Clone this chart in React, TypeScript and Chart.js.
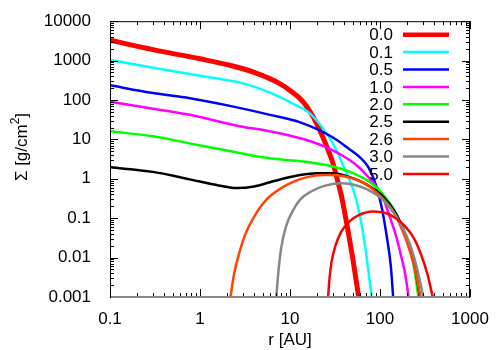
import React, { useEffect, useRef } from "react";
import { Chart, registerables } from "chart.js";

Chart.register(...registerables);

// ---- data ----
const SERIES_LABELS = ["0.0", "0.1", "0.5", "1.0", "2.0", "2.5", "2.6", "3.0", "5.0"];

const R_00 = [0.1, 0.3, 1, 2.15, 4, 7.7, 10, 14, 18, 22, 26, 30, 34, 38, 44, 50, 58];
const S_00 = [3300, 1900, 1110, 760, 500, 260, 175, 90, 38, 15, 6, 2.5, 0.85, 0.3, 0.05, 0.009, 0.001];

const R_01 = [0.1, 0.3, 1, 2.8, 6, 10, 16.7, 25.6, 33, 40, 46, 52, 58, 64, 70, 76, 81];
const S_01 = [1035, 660, 410, 276, 154, 88, 45, 14, 5.2, 1.9, 0.95, 0.42, 0.16, 0.05, 0.013, 0.003, 0.001];

const R_05 = [0.1, 0.3, 0.77, 2.15, 6, 13, 30, 45, 60, 75, 90, 105, 120, 132, 140];
const S_05 = [237, 150, 111, 71, 42, 27, 11.2, 5.8, 3.5, 1.9, 0.7, 0.18, 0.03, 0.006, 0.001];

const R_10 = [0.1, 0.3, 0.77, 2.67, 6, 14, 28, 46, 60, 77, 92, 110, 130, 150, 170, 190, 208];
const S_10 = [90, 60, 42, 22, 16, 10.2, 5.7, 3.0, 1.85, 1.0, 0.62, 0.3, 0.1, 0.037, 0.012, 0.004, 0.001];

const R_20 = [0.1, 0.3, 0.77, 2, 4, 8, 15, 30, 50, 70, 90, 110, 140, 170, 200, 235, 267];
const S_20 = [16, 12, 7.9, 5.2, 3.8, 3.1, 2.7, 2.05, 1.4, 0.95, 0.62, 0.38, 0.18, 0.075, 0.026, 0.007, 0.001];

const R_25 = [0.1, 0.3, 0.6, 1, 1.6, 2.6, 4, 6, 9, 13, 20, 30, 46, 65, 85, 110, 140, 170, 200, 240, 278];
const S_25 = [1.96, 1.5, 1.1, 0.85, 0.68, 0.58, 0.64, 0.82, 1.05, 1.25, 1.38, 1.38, 1.1, 0.8, 0.55, 0.34, 0.17, 0.075, 0.028, 0.007, 0.001];

const R_26 = [2.18, 2.4, 2.7, 3.2, 4, 5.5, 8, 11, 16, 23, 32, 46, 65, 85, 110, 140, 170, 200, 240, 282];
const S_26 = [0.001, 0.004, 0.012, 0.04, 0.11, 0.3, 0.58, 0.85, 1.12, 1.25, 1.25, 1.07, 0.8, 0.52, 0.3, 0.15, 0.062, 0.024, 0.006, 0.001];

const R_30 = [7.05, 7.4, 8, 9, 10.5, 13, 17, 24, 36, 50, 71, 100, 130, 170, 215, 260, 303];
const S_30 = [0.001, 0.004, 0.018, 0.06, 0.14, 0.3, 0.47, 0.66, 0.77, 0.72, 0.55, 0.34, 0.18, 0.072, 0.022, 0.005, 0.001];

const R_50 = [26.5, 27.5, 29, 32, 37, 45, 58, 84, 115, 150, 190, 240, 290, 340, 385];
const S_50 = [0.001, 0.003, 0.008, 0.02, 0.045, 0.08, 0.12, 0.148, 0.135, 0.1, 0.062, 0.03, 0.011, 0.0035, 0.001];

const SERIES_R = [R_00, R_01, R_05, R_10, R_20, R_25, R_26, R_30, R_50];
const SERIES_S = [S_00, S_01, S_05, S_10, S_20, S_25, S_26, S_30, S_50];

const X_TICK_LABELS = ["0.1", "1", "10", "100", "1000"];
const Y_TICK_LABELS = ["0.001", "0.01", "0.1", "1", "10", "100", "1000", "10000"];

const X_TITLE = "r [AU]";
const Y_TITLE_MAIN = "\u03A3 [g/cm";
const Y_TITLE_SUP = "2";
const Y_TITLE_END = "]";

// ---- styles ----
const COLORS = ["#ff0000", "#00ffff", "#0000ff", "#ff00ff", "#00ff00", "#000000", "#ff4500", "#888888", "#ff0000"];
const WIDTHS = [5, 2.5, 2.5, 2.5, 2.5, 2.5, 2.5, 2.5, 2.5];
const FONT = "'Liberation Sans', Arial, Helvetica, sans-serif";
const FS = 17;

function labelFor(list: string[], v: number) {
  const e = Math.log10(v);
  const r = Math.round(e);
  if (Math.abs(e - r) > 1e-6) return "";
  const s = list.find((t) => Math.abs(Math.log10(Number(t)) - r) < 1e-6);
  return s ?? "";
}

function tickValues(list: string[]) {
  const lo = Math.round(Math.log10(Number(list[0])));
  const hi = Math.round(Math.log10(Number(list[list.length - 1])));
  const out: { v: number; major: boolean }[] = [];
  for (let e = lo; e <= hi; e++) {
    for (let k = 1; k <= 9; k++) {
      if (e === hi && k > 1) break;
      out.push({ v: k * Math.pow(10, e), major: k === 1 });
    }
  }
  return out;
}

const framePlugin = {
  id: "frame",
  afterDraw(chart: any) {
    const { ctx, chartArea, scales } = chart;
    const { left, right, top, bottom } = chartArea;
    const xs = scales.x;
    const ys = scales.y;
    ctx.save();
    ctx.strokeStyle = "#000000";
    ctx.lineWidth = 1;
    ctx.beginPath();
    ctx.moveTo(left + 0.5, bottom);
    ctx.lineTo(left + 0.5, top + 0.5);
    ctx.lineTo(right - 0.5, top + 0.5);
    ctx.lineTo(right - 0.5, bottom);
    ctx.stroke();

    ctx.beginPath();
    tickValues(X_TICK_LABELS).forEach(({ v, major }) => {
      const p = Math.round(xs.getPixelForValue(v)) + 0.5;
      const len = major ? 8 : 4;
      ctx.moveTo(p, bottom);
      ctx.lineTo(p, bottom - len);
      ctx.moveTo(p, top);
      ctx.lineTo(p, top + len);
    });
    tickValues(Y_TICK_LABELS).forEach(({ v, major }) => {
      const p = Math.round(ys.getPixelForValue(v)) + 0.5;
      const len = major ? 8 : 4;
      ctx.moveTo(left, p);
      ctx.lineTo(left + len, p);
      ctx.moveTo(right, p);
      ctx.lineTo(right - len, p);
    });
    ctx.stroke();

    ctx.strokeStyle = "#888888";
    ctx.lineWidth = 2;
    ctx.beginPath();
    ctx.moveTo(left + 1, bottom);
    ctx.lineTo(right - 1, bottom);
    ctx.stroke();

    // legend
    ctx.font = `${FS}px ${FONT}`;
    ctx.textAlign = "right";
    ctx.textBaseline = "middle";
    chart.data.datasets.forEach((ds: any, i: number) => {
      const yy = top + 13.5 + i * 17.4;
      ctx.fillStyle = "#000";
      ctx.fillText(ds.label, right - 77, yy + 1);
      ctx.strokeStyle = ds.borderColor;
      ctx.lineWidth = ds.borderWidth > 3 ? 4.5 : 2.5;
      ctx.beginPath();
      ctx.moveTo(right - 67, yy);
      ctx.lineTo(right - 21, yy);
      ctx.stroke();
    });

    // axis titles
    ctx.fillStyle = "#000";
    ctx.textAlign = "center";
    ctx.textBaseline = "middle";
    ctx.font = `${FS}px ${FONT}`;
    ctx.fillText(X_TITLE, (left + right) / 2, 340);

    ctx.save();
    ctx.translate(22, 147);
    ctx.rotate(-Math.PI / 2);
    ctx.textAlign = "left";
    ctx.textBaseline = "middle";
    const supFont = `${Math.round(FS * 0.7)}px ${FONT}`;
    ctx.font = `${FS}px ${FONT}`;
    const w1 = ctx.measureText(Y_TITLE_MAIN).width;
    const w3 = ctx.measureText(Y_TITLE_END).width;
    ctx.font = supFont;
    const w2 = ctx.measureText(Y_TITLE_SUP).width;
    const total = w1 + w2 + w3;
    let xx = -total / 2;
    ctx.font = `${FS}px ${FONT}`;
    ctx.fillText(Y_TITLE_MAIN, xx, 0);
    xx += w1;
    ctx.font = supFont;
    ctx.fillText(Y_TITLE_SUP, xx, -6);
    xx += w2;
    ctx.font = `${FS}px ${FONT}`;
    ctx.fillText(Y_TITLE_END, xx, 0);
    ctx.restore();

    ctx.restore();
  },
};

export default function App() {
  const ref = useRef<HTMLCanvasElement | null>(null);
  useEffect(() => {
    if (!ref.current) return;
    const datasets = SERIES_LABELS.map((label, i) => ({
      label,
      data: SERIES_R[i].map((r, j) => ({ x: r, y: SERIES_S[i][j] })),
      borderColor: COLORS[i],
      backgroundColor: COLORS[i],
      borderWidth: WIDTHS[i],
      pointRadius: 0,
      showLine: true,
      fill: false,
      cubicInterpolationMode: "monotone" as const,
      clip: 0,
      order: -i,
    }));
    const chart = new Chart(ref.current, {
      type: "scatter",
      data: { datasets },
      options: {
        animation: false,
        responsive: false,
        devicePixelRatio: 1,
        layout: { padding: { top: 20, right: 30, left: 0, bottom: 0 } },
        plugins: { legend: { display: false }, tooltip: { enabled: false } },
        scales: {
          x: {
            type: "logarithmic",
            min: Number(X_TICK_LABELS[0]),
            max: Number(X_TICK_LABELS[X_TICK_LABELS.length - 1]),
            grid: { display: false },
            border: { display: false },
            afterFit: (s: any) => { s.height = 53; },
            ticks: {
              autoSkip: false,
              maxRotation: 0,
              padding: 4,
              color: "#000",
              font: { family: FONT, size: FS },
              callback: (v: any) => labelFor(X_TICK_LABELS, Number(v)),
            },
          },
          y: {
            type: "logarithmic",
            min: Number(Y_TICK_LABELS[0]),
            max: Number(Y_TICK_LABELS[Y_TICK_LABELS.length - 1]),
            grid: { display: false },
            border: { display: false },
            afterFit: (s: any) => { s.width = 110; },
            ticks: {
              autoSkip: false,
              padding: 11,
              color: "#000",
              font: { family: FONT, size: FS },
              callback: (v: any) => labelFor(Y_TICK_LABELS, Number(v)),
            },
          },
        },
      },
      plugins: [framePlugin],
    } as any);
    return () => chart.destroy();
  }, []);
  return (
    <div style={{ position: "absolute", left: 0, top: 0, width: 500, height: 350, background: "#fff" }}>
      <canvas ref={ref} width={500} height={350} style={{ display: "block" }} />
    </div>
  );
}
